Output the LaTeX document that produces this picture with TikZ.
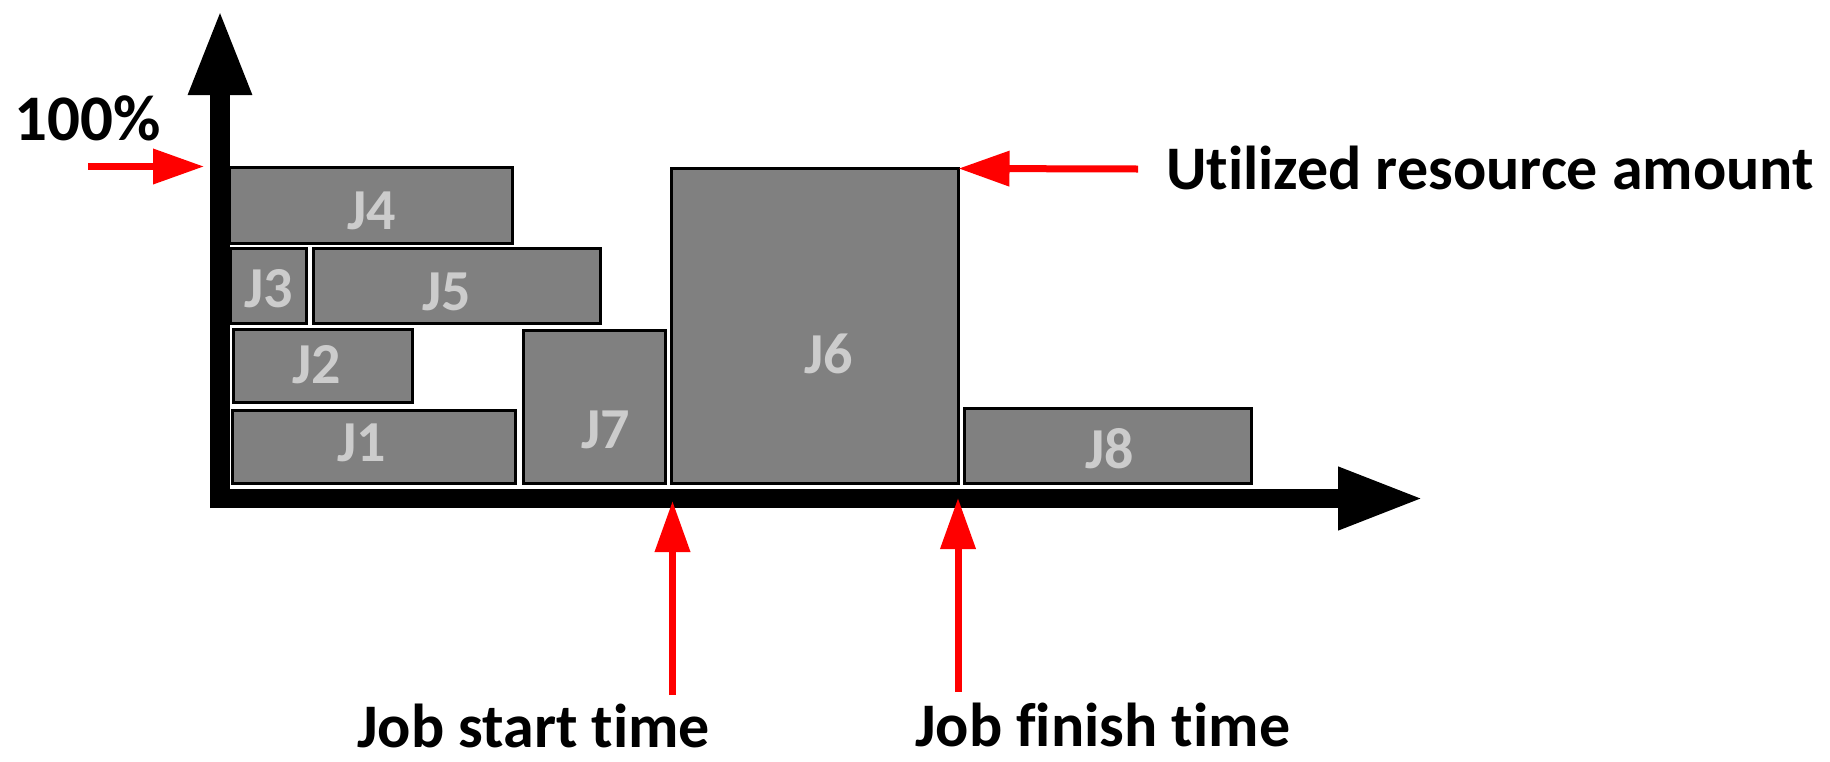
\documentclass[tikz,border=0pt]{standalone}
\usepackage{fontspec}
\setmainfont{Carlito}[Ligatures=NoCommon]
\usetikzlibrary{arrows.meta}
\definecolor{jobgray}{HTML}{808080}
\definecolor{joblabelgray}{HTML}{CCCCCC}
\begin{document}
\begin{tikzpicture}[x=1pt,y=-1pt,
  jobbox/.style={draw=black, fill=jobgray, line width=3pt, inner sep=0pt, outer sep=0pt},
  joblabel/.style={anchor=base, text=joblabelgray, inner sep=0pt,
    font=\bfseries\fontsize{58}{60}\selectfont},
  caption/.style={anchor=base west, inner sep=0pt,
    font=\bfseries\fontsize{62}{70}\selectfont},
  axisline/.style={line width=20pt, -{Triangle[length=86pt,width=58pt]}},
  pointer/.style={red, line width=7pt, -{Triangle[length=51pt,width=34pt]}}]

% canvas
\fill[white] (0,0) rectangle (1830,761);
\useasboundingbox (0,0) rectangle (1830,761);

% axes
\coordinate (ybottom) at (220,508);
\coordinate (ytip) at (220,9);
\coordinate (xleft) at (210,498.5);
\coordinate (xtip) at (1424,498.5);
\draw[axisline] (ybottom) -- (ytip);
\draw[axisline, line width=19pt] (xleft) -- (xtip);

% jobs
\node[jobbox, minimum width=283pt, minimum height=76pt] (J4) at (371,205.5) {};
\node[jobbox, minimum width=76pt,  minimum height=75pt] (J3) at (268.5,286) {};
\node[jobbox, minimum width=287pt, minimum height=75pt] (J5) at (457,286) {};
\node[jobbox, minimum width=179pt, minimum height=73pt] (J2) at (322.5,366) {};
\node[jobbox, minimum width=283pt, minimum height=73pt] (J1) at (374,446.5) {};
\node[jobbox, minimum width=142pt, minimum height=153pt] (J7) at (594.5,406.5) {};
\node[jobbox, minimum width=287pt, minimum height=315pt] (J6) at (815,326) {};
\node[jobbox, minimum width=287pt, minimum height=75pt] (J8) at (1108,446) {};

% job labels
\node[joblabel] (L1) at (362,461) {J1};
\node[joblabel] (L2) at (317,383) {J2};
\node[joblabel] (L3) at (269,307) {J3};
\node[joblabel] (L4) at (372,229) {J4};
\node[joblabel] (L5) at (447,310) {J5};
\node[joblabel] (L6) at (829,373) {J6};
\node[joblabel] (L7) at (606,448) {J7};
\node[joblabel] (L8) at (1110,468) {J8};

% captions
\node[caption, font=\bfseries\fontsize{65}{70}\selectfont] (pct) at (14,140) {100\%};
\node[caption] (util) at (1166,189) {Utilized resource amount};
\node[caption] (start) at (357,747) {Job start time};
\node[caption] (finish) at (915,746) {Job finish time};

% pointers
\coordinate (pcttail) at (88,166.5);
\coordinate (pcthead) at (204,166.5);
\coordinate (utiltail) at (1138,169);
\coordinate (starttail) at (672.5,695);
\coordinate (starthead) at (672.5,501);
\coordinate (finishtail) at (958,692);
\coordinate (finishhead) at (958,498);
\draw[pointer] (pcttail) -- (pcthead);
\draw[pointer] (utiltail) -- (J6.north east);
\draw[pointer] (starttail) -- (starthead);
\draw[pointer] (finishtail) -- (finishhead);
\end{tikzpicture}
\end{document}
